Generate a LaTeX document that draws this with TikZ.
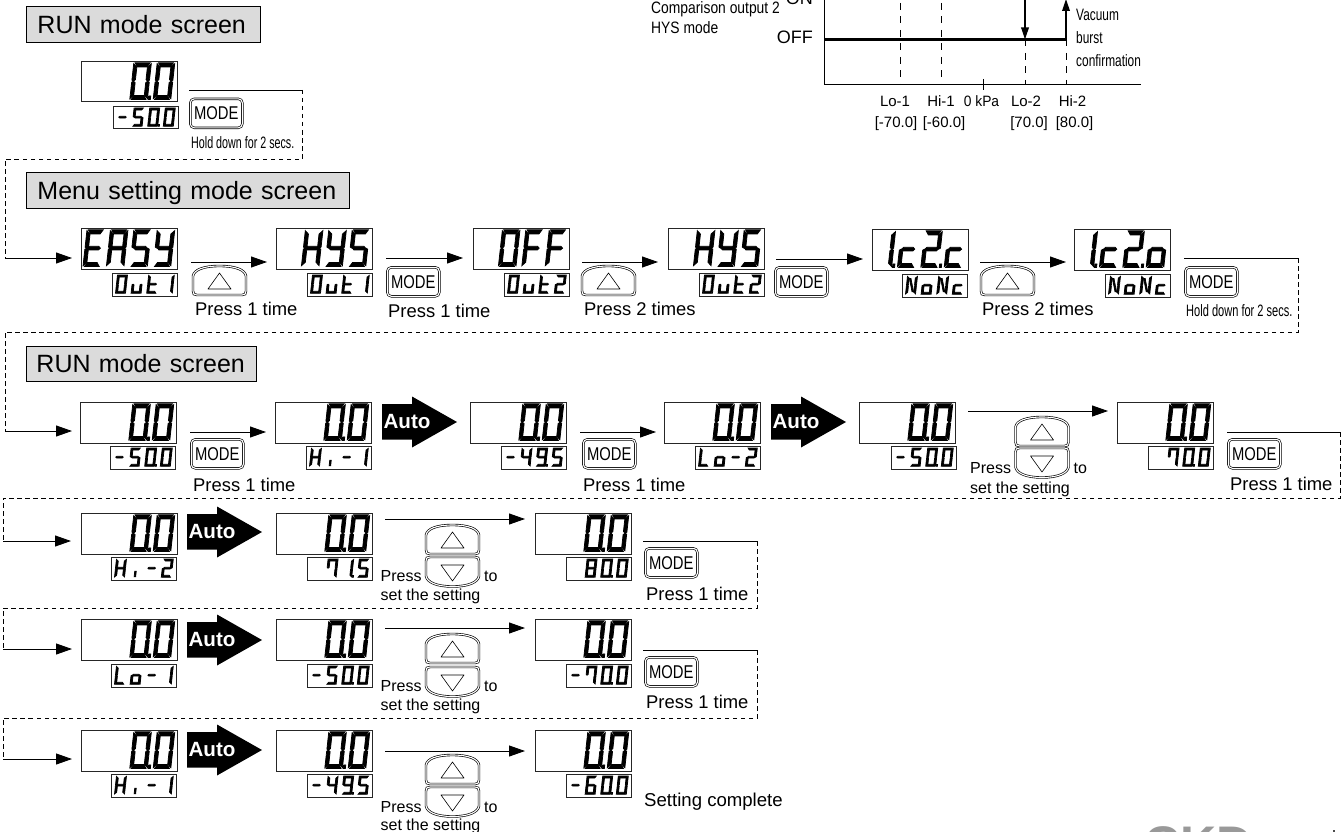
\documentclass[tikz,border=0pt]{standalone}
\usepackage{fontspec}
\usepackage{graphicx}
\setmainfont{Liberation Sans}
\usetikzlibrary{arrows.meta}
\newcommand\fs[1]{\fontsize{#1}{#1}\selectfont}
% ---- seven segment geometry (cell 20 x 36, y down)
\newcommand\sg[2]{\expandafter\def\csname S#1\endcsname{#2}}
\sg{a}{(1.5,0)--(18.5,0)--(15.5,4)--(4.5,4)--cycle}
\sg{b}{(20,.8)--(20,17)--(18,18)--(16,16.5)--(16,4.2)--cycle}
\sg{c}{(20,19)--(20,35.2)--(16,31.8)--(16,19.5)--(18,18)--cycle}
\sg{d}{(4.5,32)--(15.5,32)--(18.5,36)--(1.5,36)--cycle}
\sg{e}{(0,19)--(2,18)--(4,19.5)--(4,31.8)--(0,35.2)--cycle}
\sg{f}{(0,.8)--(4,4.2)--(4,16.5)--(2,18)--(0,17)--cycle}
\sg{g}{(2.5,18)--(4.5,16.2)--(15.5,16.2)--(17.5,18)--(15.5,19.8)--(4.5,19.8)--cycle}
\sg{p}{(21,32.5)--(23.4,32.5)--(23.4,36)--(21,36)--cycle}
\sg{n}{(4.5,5)--(7.5,5)--(15.5,31)--(12.5,31)--cycle}
\sg{i}{(8,24)--(11,24)--(11,35)--(8,35)--cycle}
\sg{z}{(0,0)}
\newcommand\gl[2]{\expandafter\def\csname G#1\endcsname{#2}}
\gl{_}{z}
\gl{-}{g}
\gl{0}{a,b,c,d,e,f}\gl{0p}{a,b,c,d,e,f,p}
\gl{1}{b,c}\gl{1p}{b,c,p}
\gl{2}{a,b,d,e,g}\gl{2p}{a,b,d,e,g,p}
\gl{4}{b,c,f,g}\gl{5}{a,c,d,f,g}\gl{6}{a,c,d,e,f,g}\gl{7}{a,b,c,f}
\gl{8}{a,b,c,d,e,f,g}\gl{9p}{a,b,c,d,f,g,p}
\gl{E}{a,d,e,f,g}\gl{A}{a,b,c,e,f,g}\gl{S}{a,c,d,f,g}\gl{Y}{b,c,d,f,g}
\gl{H}{b,c,e,f,g}\gl{F}{a,e,f,g}\gl{O}{a,b,c,d,e,f}\gl{u}{c,d,e}
\gl{t}{d,e,f,g}\gl{c}{d,e,g}\gl{o}{c,d,e,g}\gl{L}{d,e,f}\gl{N}{b,c,e,f,n}\gl{I}{i}
\newcommand\lcdglyphs[7]{% x y pitch sx sy outline list
  \foreach \g [count=\i] in {#7} {
    \pgfmathsetmacro\gx{#1+(\i-1)*#3}
    \pgfmathsetmacro\kk{.11*#5}
    \edef\thisg{\csname G\g\endcsname}
    \begin{scope}[shift={(\gx,#2)},x=#4pt,y={(-\kk pt,-#5 pt)}]
      \foreach \s in \thisg {
        \expandafter\let\expandafter\segp\csname S\s\endcsname
        \filldraw[fill=black,draw=black,line width=#6pt] \segp;
      }
    \end{scope}
  }
}
\newcommand\lcdB[5]{% name x y text glyphs
  \node[lcdbox,minimum width=96pt,minimum height=40.5pt] (#1) at (#2,#3) {#4};
  \pgfmathsetmacro\ax{#2+6}\pgfmathsetmacro\ay{#3+1.8}
  \lcdglyphs{\ax}{\ay}{23.4}{.88}{1.02}{.75}{#5}
}
\newcommand\lcdS[5]{% name x y text glyphs
  \node[lcdbox,minimum width=65pt,minimum height=22.5pt] (#1) at (#2,#3) {#4};
  \pgfmathsetmacro\ax{#2+5.5}\pgfmathsetmacro\ay{#3+2}
  \lcdglyphs{\ax}{\ay}{15.6}{.5}{.51}{.75}{#5}
}
\newcommand\dzero[3]{\lcdB{#1}{#2}{#3}{0.0}{_,_,0p,0}}
\newcommand\modeb[3]{\node[modebtn] (#1) at (#2,#3) {\fs{18.5}\scalebox{.8}[1]{MODE}};}
\newcommand\upb[3]{%
  \coordinate (#1) at (#2,#3);
  \begin{scope}[shift={(#1)}]
  \draw[btnline] (0,10) .. controls (1,4) and (10,0) .. (26.5,0) .. controls (43,0) and (52,4) .. (53,10) -- (53,25) .. controls (53,28) and (52,29) .. (49,29) -- (4,29) .. controls (1,29) and (0,28) .. (0,25) -- cycle;
  \draw[line width=.6pt,line join=round] (26.5,7) -- (15,23) -- (38,23) -- cycle;
  \end{scope}}
\newcommand\downb[3]{%
  \coordinate (#1) at (#2,#3);
  \begin{scope}[shift={(#1)}]
  \draw[btnline] (0,19) .. controls (1,25) and (10,29.5) .. (26.5,29.5) .. controls (43,29.5) and (52,25) .. (53,19) -- (53,4) .. controls (53,1) and (52,0) .. (49,0) -- (4,0) .. controls (1,0) and (0,1) .. (0,4) -- cycle;
  \draw[line width=.6pt,line join=round] (15,8) -- (38,8) -- (26.5,24) -- cycle;
  \end{scope}}
\newcommand\autoa[3]{%
  \coordinate (#1) at (#2,#3);
  \fill[black,shift={(#1)}] (0,-18) -- (30,-18) -- (30,-25.5) -- (75,0) -- (30,25.5) -- (30,17.5) -- (0,17.5) -- cycle;
  \node[font=\fs{20.6}\bfseries,text=white,inner sep=0pt] (#1t) at ([xshift=25pt]#1) {Auto};}
% setting cluster: up + down + texts; x fixed by args
\newcommand\setc[6]{% prefix x upY downY pressBase setBase
  \upb{#1u}{#2}{#3}\downb{#1d}{#2}{#4}
  \pgfmathsetmacro\tx{#2-45.5}\pgfmathsetmacro\ty{#2+58}
  \node[t16] (#1p) at (\tx,#5) {Press};
  \node[t16] (#1o) at (\ty,#5) {to};
  \node[t16] (#1s) at (\tx,#6) {set the setting};}
\newcommand\flowl[5]{% name x1 y1 x2 y2
  \coordinate (#1a) at (#2,#3); \coordinate (#1b) at (#4,#5);
  \draw[flowline] (#1a) -- (#1b);}
\tikzset{
  lcdbox/.style={draw=black!85,line width=.8pt,anchor=north west,inner sep=0pt,font=\fs{6},text opacity=0},
  modebtn/.style={anchor=north west,draw=black,double=white,double distance=1.1pt,line width=.65pt,rounded corners=4pt,minimum width=52pt,minimum height=29pt,inner sep=0pt},
  btnline/.style={draw=black,double=white,double distance=1.1pt,line width=.65pt},
  flowline/.style={line width=.9pt,-{Triangle[length=16pt,width=11pt]}},
  plainline/.style={line width=.9pt},
  dashline/.style={line width=.8pt,dash pattern=on 4.5pt off 3.5pt},
  graphdash/.style={line width=.8pt,dash pattern=on 7pt off 6.5pt},
  header/.style={draw=black,line width=.9pt,fill=gray!28,anchor=north west,inner sep=0pt,text height=18pt,text depth=0pt,font=\fs{25},align=left},
  t18/.style={anchor=base west,inner sep=0pt,font=\fs{18.4}},
  t16/.style={anchor=base west,inner sep=0pt,font=\fs{16}},
  t15/.style={anchor=base,inner sep=0pt,font=\fs{15}},
  narrow/.style={anchor=base west,inner sep=0pt,font=\fs{16.5}},
}
\begin{document}
\begin{tikzpicture}[x=1pt,y=-1pt]
\useasboundingbox (0,0) rectangle (1343,832);
\fill[white] (0,0) rectangle (1343,832);
% ---- Graph
\coordinate (g0) at (824,0); \coordinate (go) at (824,85); \coordinate (gx) at (1141,85);
\coordinate (l1a) at (900,3); \coordinate (l1b) at (900,85);
\coordinate (h1a) at (941,3); \coordinate (h1b) at (941,85);
\coordinate (l2a) at (1025,0); \coordinate (l2m) at (1025,39.5); \coordinate (l2b) at (1025,85);
\coordinate (h2a) at (1066,-1); \coordinate (h2m) at (1066,39.5); \coordinate (h2b) at (1066,85);
\coordinate (off0) at (824,39.5); \coordinate (tk1) at (983,79); \coordinate (tk2) at (983,90);
\draw[line width=1pt] (g0) -- (go) -- (gx);
\draw[line width=.9pt] (tk1) -- (tk2);
\draw[graphdash] (l1a) -- (l1b);
\draw[graphdash] (h1a) -- (h1b);
\draw[graphdash] (l2m) -- (l2b);
\draw[graphdash] (h2m) -- (h2b);
\draw[line width=2.6pt] (off0) -- (h2m);
\draw[line width=1.8pt,-{Triangle[length=12pt,width=7.5pt]}] (l2a) -- (l2m);
\draw[line width=1.8pt,-{Triangle[length=12pt,width=7.5pt]}] (h2m) -- (h2a);
\node[anchor=base east,inner sep=0pt,font=\fs{18}] (on) at (813,4.5) {ON};
\node[anchor=base east,inner sep=0pt,font=\fs{18}] (off) at (813,44) {OFF};
\node[narrow] (cmp1) at (651,14) {\scalebox{.84}[1]{Comparison output 2}};
\node[narrow] (cmp2) at (651,34) {\scalebox{.84}[1]{HYS mode}};
\node[narrow] (vb1) at (1076,21) {\scalebox{.72}[1]{Vacuum}};
\node[narrow] (vb2) at (1076,44) {\scalebox{.72}[1]{burst}};
\node[narrow] (vb3) at (1076,67) {\scalebox{.72}[1]{confirmation}};
\node[t15] (a1) at (895,107) {Lo-1};
\node[t15] (a2) at (941,107) {Hi-1};
\node[t15] (a3) at (981.5,107) {\scalebox{.92}[1]{0 kPa}};
\node[t15] (a4) at (1026,107) {Lo-2};
\node[t15] (a5) at (1072.5,107) {Hi-2};
\node[t15] (b1) at (896,128) {[-70.0]};
\node[t15] (b2) at (944,128) {[-60.0]};
\node[t15] (b3) at (1029,128) {[70.0]};
\node[t15] (b4) at (1074.5,128) {[80.0]};
% ---- Row 1
\node[header,minimum width=234pt,minimum height=36pt,text width=212pt] (h1) at (26,6) {RUN mode screen};
\dzero{r1a}{81}{61}
\lcdS{r1b}{113}{106}{-50.0}{-,5,0p,0}
\modeb{r1m}{190}{98.5}
\node[narrow] (r1t) at (191,149) {\scalebox{.65}[1]{Hold down for 2 secs.}};
\coordinate (c1a) at (189,90); \coordinate (c1b) at (302,90); \coordinate (c1c) at (302,159); \coordinate (c1d) at (5,159); \coordinate (c1e) at (5,258);\coordinate (c1f) at (72,258);
\draw[plainline] (c1a) -- (c1b);
\draw[dashline] (c1b) -- (c1c) -- (c1d) -- (c1e);
\draw[flowline] (c1e) -- (c1f);
% ---- Row 2
\node[header,minimum width=323pt,minimum height=36pt,text width=301pt] (h2) at (26,172) {Menu setting mode screen};
\lcdB{m1}{81}{228}{EASY}{E,A,S,Y}
\lcdS{m1s}{112}{273}{Out 1}{O,u,t,1}
\flowl{f1}{191}{262}{267}{262}
\upb{m1u}{193}{266}
\node[t18] (m1t) at (195,315) {Press 1 time};
\lcdB{m2}{276}{228}{HYS}{_,H,Y,S}
\lcdS{m2s}{307}{273}{Out 1}{O,u,t,1}
\flowl{f2}{386}{258}{463}{258}
\modeb{m2m}{387}{267}
\node[t18] (m2t) at (388,317) {Press 1 time};
\lcdB{m3}{473}{228}{OFF}{_,O,F,F}
\lcdS{m3s}{504}{273}{Out2}{O,u,t,2}
\flowl{f3}{582}{262}{658}{262}
\upb{m3u}{582}{266}
\node[t18] (m3t) at (584,315) {Press 2 times};
\lcdB{m4}{668}{228}{HYS}{_,H,Y,S}
\lcdS{m4s}{699}{273}{Out2}{O,u,t,2}
\flowl{f4}{776}{259}{863}{259}
\modeb{m4m}{775}{267}
\lcdB{m5}{872}{229}{1c2c}{1p,c,2p,c}
\lcdS{m5s}{902}{274}{NoNc}{N,o,N,c}
\flowl{f5}{980}{262}{1066}{262}
\upb{m5u}{981}{266}
\node[t18] (m5t) at (982,315) {Press 2 times};
\lcdB{m6}{1074}{229}{1c2o}{1p,c,2p,o}
\lcdS{m6s}{1105}{274}{NoNc}{N,o,N,c}
\modeb{m6m}{1185}{267}
\node[narrow] (m6t) at (1186,316) {\scalebox{.67}[1]{Hold down for 2 secs.}};
\coordinate (c2a) at (1184,258); \coordinate (c2b) at (1298,258); \coordinate (c2c) at (1298,332); \coordinate (c2d) at (5,332); \coordinate (c2e) at (5,431);\coordinate (c2f) at (72,431);
\draw[plainline] (c2a) -- (c2b);
\draw[dashline] (c2b) -- (c2c) -- (c2d) -- (c2e);
\draw[flowline] (c2e) -- (c2f);
% ---- Row 3
\node[header,minimum width=230pt,minimum height=35pt,text width=210pt] (h3) at (26,346) {RUN mode screen};
\dzero{n1}{80}{402}
\lcdS{n1s}{110}{446}{-50.0}{-,5,0p,0}
\flowl{f6}{190}{432}{266}{432}
\modeb{n1m}{191}{439}
\node[t18] (n1t) at (193,491) {Press 1 time};
\dzero{n2}{275}{402}
\lcdS{n2s}{306}{446}{Hi-1}{H,I,-,1}
\autoa{au1}{382}{422}
\dzero{n3}{470}{402}
\lcdS{n3s}{501}{446}{-49.5}{-,4,9p,5}
\flowl{f7}{580}{432}{656}{432}
\modeb{n3m}{583}{439}
\node[t18] (n3t) at (583,491) {Press 1 time};
\dzero{n4}{664}{402}
\lcdS{n4s}{695}{446}{Lo-2}{L,o,-,2}
\autoa{au2}{771}{422}
\dzero{n5}{859}{402}
\lcdS{n5s}{891}{446}{-50.0}{-,5,0p,0}
\flowl{f8}{968}{411}{1108}{411}
\setc{n5x}{1015.5}{417}{448}{473}{493}
\dzero{n6}{1117}{402}
\lcdS{n6s}{1148}{446}{70.0}{_,7,0p,0}
\modeb{n6m}{1228}{439}
\node[t18] (n6t) at (1230,490) {Press 1 time};
\coordinate (c3a) at (1227,432); \coordinate (c3b) at (1340,432); \coordinate (c3c) at (1340,498); \coordinate (c3d) at (3,498); \coordinate (c3e) at (3,541);\coordinate (c3f) at (71,541);
\draw[plainline] (c3a) -- (c3b);
\draw[dashline] (c3b) -- (c3c) -- (c3d) -- (c3e);
\draw[flowline] (c3e) -- (c3f);
% ---- Row 4
\dzero{p1}{81}{513}
\lcdS{p1s}{111}{557}{Hi-2}{H,I,-,2}
\autoa{au3}{187}{532}
\dzero{p2}{276}{513}
\lcdS{p2s}{307}{557}{71.5}{_,7,1p,5}
\flowl{f9}{385}{519}{525}{519}
\setc{p2x}{426}{525}{557}{581}{600}
\dzero{p3}{535}{513}
\lcdS{p3s}{566}{557}{80.0}{_,8,0p,0}
\modeb{p3m}{645}{548}
\node[t18] (p3t) at (646,600) {Press 1 time};
\coordinate (c4a) at (643,541); \coordinate (c4b) at (757,541); \coordinate (c4c) at (757,608); \coordinate (c4d) at (3,608); \coordinate (c4e) at (3,649);\coordinate (c4f) at (72,649);
\draw[plainline] (c4a) -- (c4b);
\draw[dashline] (c4b) -- (c4c) -- (c4d) -- (c4e);
\draw[flowline] (c4e) -- (c4f);
% ---- Row 5
\dzero{q1}{81}{619}
\lcdS{q1s}{111}{664}{Lo-1}{L,o,-,1}
\autoa{au4}{187}{640}
\dzero{q2}{276}{619}
\lcdS{q2s}{307}{664}{-50.0}{-,5,0p,0}
\flowl{f10}{385}{628}{525}{628}
\setc{q2x}{426}{634}{667}{691}{710}
\dzero{q3}{535}{619}
\lcdS{q3s}{566}{664}{-70.0}{-,7,0p,0}
\modeb{q3m}{645}{657}
\node[t18] (q3t) at (646,708) {Press 1 time};
\coordinate (c5a) at (643,650); \coordinate (c5b) at (757,650); \coordinate (c5c) at (757,718); \coordinate (c5d) at (3,718); \coordinate (c5e) at (3,759);\coordinate (c5f) at (72,759);
\draw[plainline] (c5a) -- (c5b);
\draw[dashline] (c5b) -- (c5c) -- (c5d) -- (c5e);
\draw[flowline] (c5e) -- (c5f);
% ---- Row 6
\dzero{s1}{81}{730}
\lcdS{s1s}{111}{774}{Hi-1}{H,I,-,1}
\autoa{au5}{187}{750}
\dzero{s2}{276}{730}
\lcdS{s2s}{307}{774}{-49.5}{-,4,9p,5}
\flowl{f11}{385}{751}{525}{751}
\setc{s2x}{426}{755}{787}{812}{830}
\dzero{s3}{535}{730}
\lcdS{s3s}{566}{774}{-60.0}{-,6,0p,0}
\node[t18,font=\fs{18.6}] (s3t) at (644,806) {Setting complete};
% ---- Corner logo fragment
\node[anchor=base west,inner sep=0pt,font=\fs{50}\bfseries,text=gray!80] (ckd) at (1144,861) {CKD};
\fill[black!70] (1333,830) rectangle (1335,832);
\end{tikzpicture}
\end{document}
